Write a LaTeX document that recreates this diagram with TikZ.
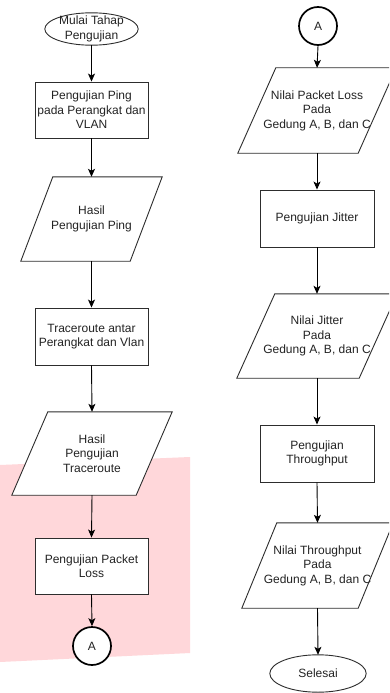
\documentclass[tikz,border=0pt]{standalone}
\usepackage{fontspec}
\setmainfont{Liberation Sans}
\usetikzlibrary{shapes.geometric,arrows.meta,calc}
\definecolor{pinkbg}{RGB}{255,215,218}
\definecolor{ln}{RGB}{45,45,45}
\definecolor{tx}{RGB}{35,35,35}
\pgfdeclarelayer{back}
\pgfdeclarelayer{mid}
\pgfsetlayers{back,mid,main}
\tikzset{
  txt/.style={font=\fontsize{12}{14.5}\selectfont, text=tx, align=center, inner sep=0pt},
  box/.style={txt, rectangle, draw=ln, line width=0.9pt, fill=white, minimum width=113pt, minimum height=56pt},
  conn/.style={txt, circle, draw=black, line width=1.7pt, fill=white, minimum size=38pt},
  paranode/.style={txt, rectangle, draw=none},
  shp/.style={draw=ln, line width=0.9pt, fill=white, line join=miter},
  flow/.style={draw=black, line width=0.9pt, -{Stealth[length=8pt,width=7pt,inset=2pt]}},
}
\newcommand\drawpara[2]{%
  \begin{pgfonlayer}{mid}
    \clip (0,0) rectangle (389,693);
    \draw[shp] (#1.south west) -- ([xshift=#2]#1.north west) -- (#1.north east) -- ([xshift=-#2]#1.south east) -- cycle;
  \end{pgfonlayer}}
\newcommand\drawterm[1]{%
  \begin{pgfonlayer}{mid}
    \path let \p1=($(#1.north east)-(#1.south west)$) in
      [shp] (#1.center) ellipse [x radius=0.5*\x1, y radius=0.5*\y1];
  \end{pgfonlayer}}
\begin{document}
\begin{tikzpicture}[x=1pt,y=-1pt]
  \clip (0,0) rectangle (389,693);
  \begin{pgfonlayer}{back}
    \fill[white] (0,0) rectangle (389,693);
    \fill[pinkbg] (0,465) -- (190,457) -- (190,653) -- (0,662) -- cycle;
  \end{pgfonlayer}

  % left column
  \node[paranode, minimum width=93pt, minimum height=32pt] (start) at (91.5,29) {Mulai Tahap\\Pengujian};
  \drawterm{start}
  \node[box] (ping) at (91.5,110) {Pengujian Ping\\pada Perangkat dan\\VLAN};
  \node[paranode, minimum width=141pt, minimum height=84pt] (hping) at (91.5,219) {Hasil\\Pengujian Ping};
  \drawpara{hping}{32pt}
  \node[box, minimum height=57pt] (trace) at (91.5,336.5) {Traceroute antar\\Perangkat dan Vlan};
  \node[paranode, minimum width=160pt, minimum height=83pt] (htrace) at (92,453.5) {Hasil\\Pengujian\\Traceroute};
  \drawpara{htrace}{36pt}
  \node[box] (loss) at (91.5,566) {Pengujian Packet\\Loss};
  \node[conn] (a1) at (92,646) {A};

  % right column
  \node[conn] (a2) at (318,26) {A};
  \node[paranode, minimum width=158pt, minimum height=85pt] (nloss) at (317,110.5) {Nilai Packet Loss\\Pada\\Gedung A, B, dan C};
  \drawpara{nloss}{38pt}
  \node[box, minimum width=114pt, minimum height=57pt] (jit) at (317,218.5) {Pengujian Jitter};
  \node[paranode, minimum width=160pt, minimum height=84pt] (njit) at (317,336) {Nilai Jitter\\Pada\\Gedung A, B, dan C};
  \drawpara{njit}{38pt}
  \node[box, minimum width=114pt, minimum height=57pt] (thr) at (317,453.5) {Pengujian\\Throughput};
  \node[paranode, minimum width=151pt, minimum height=85pt] (nthr) at (317.5,565.5) {Nilai Throughput\\Pada\\Gedung A, B, dan C};
  \drawpara{nthr}{35pt}
  \node[paranode, minimum width=96pt, minimum height=37pt] (end) at (318,673.5) {Selesai};
  \drawterm{end}

  % connectors
  \draw[flow] (start.south) -- (ping.north);
  \draw[flow] (ping.south) -- (hping.north);
  \draw[flow] (hping.south) -- (trace.north);
  \draw[flow] (trace.south) -- (htrace.north);
  \draw[flow] (htrace.south) -- (loss.north);
  \draw[flow] (loss.south) -- (a1.north);
  \draw[flow] (a2.south) -- (nloss.north);
  \draw[flow] (nloss.south) -- (jit.north);
  \draw[flow] (jit.south) -- (njit.north);
  \draw[flow] (njit.south) -- (thr.north);
  \draw[flow] (thr.south) -- (nthr.north);
  \draw[flow] (nthr.south) -- (end.north);
\end{tikzpicture}
\end{document}
